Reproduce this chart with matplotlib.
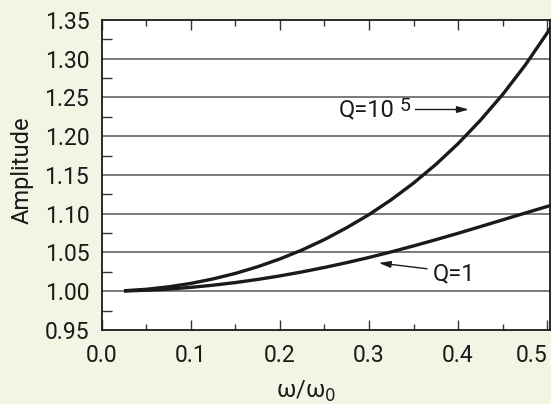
import matplotlib
matplotlib.use("Agg")
import matplotlib.pyplot as plt
from matplotlib.ticker import MultipleLocator, FixedLocator

# Data
omega_ratio = [0.025, 0.05, 0.075, 0.10, 0.125, 0.15, 0.175, 0.20, 0.225, 0.25, 0.275,
               0.30, 0.325, 0.35, 0.375, 0.40, 0.425, 0.45, 0.475, 0.50, 0.505]
amp_q_high = [1.0006, 1.0025, 1.0057, 1.0101, 1.0159, 1.0230, 1.0316, 1.0417, 1.0533, 1.0667, 1.0820,
              1.0989, 1.1181, 1.1396, 1.1636, 1.1905, 1.2206, 1.2539, 1.2913, 1.3333, 1.3420]
amp_q_one = [1.0003, 1.0013, 1.0028, 1.0050, 1.0078, 1.0112, 1.0152, 1.0198, 1.0250, 1.0307, 1.0369,
             1.0436, 1.0508, 1.0585, 1.0665, 1.0748, 1.0834, 1.0921, 1.1008, 1.1094, 1.1111]

x_ticks = [0.0, 0.1, 0.2, 0.3, 0.4, 0.5]
x_tick_labels = ["0.0", "0.1", "0.2", "0.3", "0.4", "0.5"]
y_ticks = [0.95, 1.00, 1.05, 1.10, 1.15, 1.20, 1.25, 1.30, 1.35]
y_tick_labels = ["0.95", "1.00", "1.05", "1.10", "1.15", "1.20", "1.25", "1.30", "1.35"]

plt.rcParams['font.family'] = ['Roboto', 'DejaVu Sans']

bg = "#F0F5E4"
ink = "#1a1a1a"
fs_tick = 16.5
fs = 17
fig = plt.figure(figsize=(5.51, 4.04), dpi=100, facecolor=bg)
ax = fig.add_axes([0.1846, 0.1832, 0.998 - 0.1846, 0.9505 - 0.1832])
ax.set_facecolor("white")

ax.set_xlim(0, 0.503)
ax.set_ylim(0.95, 1.35)

for y in y_ticks[1:-1]:
    ax.axhline(y, color="#707070", lw=1.3, zorder=1)

ax.plot(omega_ratio, amp_q_high, color=ink, lw=2.4, zorder=3, solid_capstyle="butt",
        solid_joinstyle="round")
ax.plot(omega_ratio, amp_q_one, color=ink, lw=2.4, zorder=3, solid_capstyle="butt",
        solid_joinstyle="round")

ax.xaxis.set_major_locator(FixedLocator(x_ticks))
ax.set_xticklabels(x_tick_labels)
ax.xaxis.set_minor_locator(MultipleLocator(0.05))
ax.yaxis.set_major_locator(FixedLocator(y_ticks))
ax.set_yticklabels(y_tick_labels)
ax.yaxis.set_minor_locator(MultipleLocator(0.025))

ax.tick_params(axis="both", which="both", direction="in", color="#333333", width=1.0,
               labelsize=fs_tick, labelcolor=ink)
ax.tick_params(axis="x", which="major", length=7, pad=10, top=True)
ax.tick_params(axis="x", which="minor", length=4, top=True)
ax.tick_params(axis="y", which="major", length=0, pad=9)
ax.tick_params(axis="y", which="minor", length=7)

ax.get_xticklabels()[-1].set_horizontalalignment("right")

for s in ax.spines.values():
    s.set_color(ink)
    s.set_linewidth(1.3)

ax.set_ylabel("Amplitude", fontsize=fs, color=ink)
ax.yaxis.set_label_coords(-0.151, 0.516)
ax.set_xlabel(r"ω/ω$_0$", fontsize=fs, color=ink)
ax.xaxis.set_label_coords(0.456, -0.219)
ax.xaxis.label.set_verticalalignment("baseline")

# annotations
arrow = dict(arrowstyle="-|>,head_length=0.7,head_width=0.2", color=ink, lw=1.0,
             shrinkA=0, shrinkB=0)
ax.annotate("", xy=(0.412, 1.2345), xytext=(0.352, 1.2345), arrowprops=arrow)
ax.text(0.266, 1.2335, "Q=10", fontsize=fs, color=ink, va="center", ha="left")
ax.text(0.3346, 1.2395, "5", fontsize=14, color=ink, va="center", ha="left")

ax.annotate("", xy=(0.311, 1.0365), xytext=(0.365, 1.029), arrowprops=arrow)
ax.text(0.3716, 1.0225, "Q=1", fontsize=fs, color=ink, va="center", ha="left")

fig.savefig("out.png", dpi=100, facecolor=bg)
